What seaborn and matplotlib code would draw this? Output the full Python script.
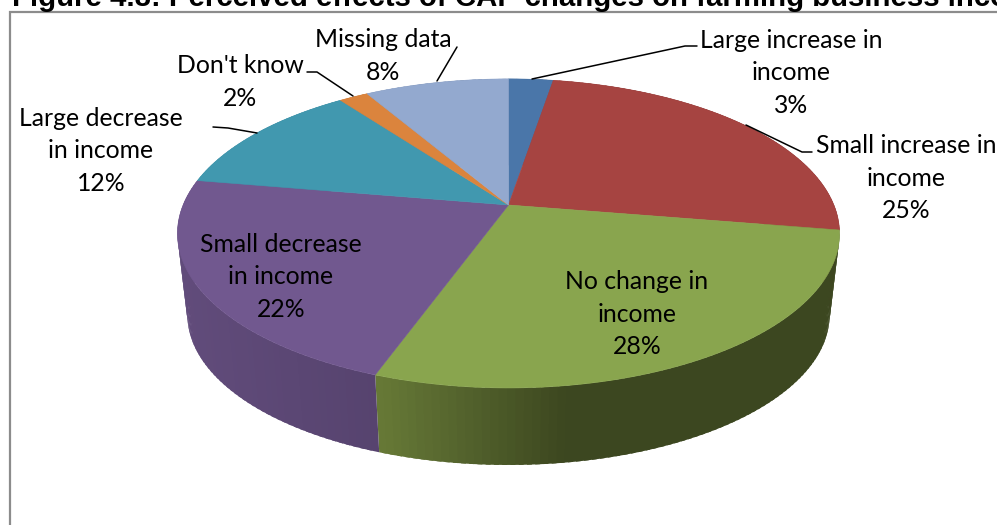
import numpy as np
import matplotlib
matplotlib.use('Agg')
import matplotlib.pyplot as plt
import seaborn as sns

# slices clockwise from 12 o'clock
categories = ['Large increase in\nincome', 'Small increase in\nincome', 'No change in\nincome',
              'Small decrease\nin income', 'Large decrease\nin income', "Don't know", 'Missing data']
values = [2.6, 25.0, 27.9, 22.2, 12.2, 1.7, 8.4]
top_colors = ['#4A76A9', '#A64441', '#89A54E', '#71588F', '#4198AF', '#DB843D', '#93A9CF']
title = 'Figure 4.8: Perceived effects of CAP changes on farming business income'

# label centre in pixels
label_pos = [(791, 73), (906, 178), (637, 314), (281, 277), (101, 151), (240, 82), (383, 56)]

# leader lines in pixels, label end first
leaders = [[(697, 46), (685, 46), (532, 79)],
           [(812, 152), (802, 152), (746, 125)],
           None,
           None,
           [(213, 127), (228, 128), (257, 133)],
           [(307, 72), (317, 72), (353, 96)],
           [(457, 47), (437, 81)]]

sns.set_theme(style='white')
plt.rcParams['font.family'] = ['Lato', 'DejaVu Sans']

# perspective of the tilted pie
cx, cy = 508.5, 205
R, S, k = 325.4, 149.3, 0.184
drop, shrink = 82.5, 0.97


def project(angle, dy=0.0, scale=1.0):
    u, v = np.sin(angle), np.cos(angle)
    w = 1 + k * v
    return cx + scale * R * u / w, cy + dy + scale * S * v * -1 / w


def side_color(name, x):
    # side wall shading, light on the left to dark on the right
    r, g, b = matplotlib.colors.to_rgb(name)
    t = np.clip((x - 177) / 450, 0, 1)
    if name == top_colors[2]:
        t = np.clip((x - 373) / 190, 0, 1)
        f = 0.74 - 0.31 * t
        return (r * f * 1.02, g * f, b * f * 0.95)
    return (r * (0.86 - 0.22 * t), g * (0.86 - 0.22 * t), b * (0.86 - 0.2 * t))


fig = plt.figure(figsize=(9.97, 5.25), dpi=100)
ax = fig.add_axes([0, 0, 1, 1])
ax.set_xlim(0, 997)
ax.set_ylim(525, 0)
ax.axis('off')

ax.plot([10, 10, 997], [525, 12, 12], color='#8C8C8C', lw=1.6, solid_joinstyle='miter', zorder=1)

edges = 2 * np.pi * np.cumsum([0] + values) / sum(values)

# side wall first, top face goes over it. strips overlap the next one so no seams show
for i in range(len(values)):
    a = np.linspace(edges[i], edges[i + 1], max(int(values[i] * 3), 3))
    step = a[1] - a[0]
    for a0, a1 in zip(a[:-1], a[1:]):
        a_end = min(a1 + step * 0.6, edges[i + 1])
        x0, y0 = project(a0)
        x1, y1 = project(a_end)
        x2, y2 = project(a_end, drop, shrink)
        x3, y3 = project(a0, drop, shrink)
        c = side_color(top_colors[i], (x0 + x1) / 2)
        ax.fill([x0, x1, x2, x3], [y0, y1, y2, y3], color=c, lw=0, zorder=2)

for i in range(len(values)):
    a = np.linspace(edges[i], edges[i + 1], 120)
    x, y = project(a)
    ax.fill(np.r_[cx, x], np.r_[cy, y], color=top_colors[i], lw=0.4, zorder=3)

for i in range(len(values)):
    txt = f'{categories[i]}\n{values[i]:.0f}%'
    ax.text(label_pos[i][0], label_pos[i][1], txt, ha='center', va='center', fontsize=17.8,
            color='black', linespacing=1.5, zorder=5)
    if leaders[i] is not None:
        ax.plot(*zip(*leaders[i]), color='black', lw=1.1, zorder=4)

ax.text(12, 6, title, ha='left', va='baseline', fontsize=21.2, fontweight='bold',
        family='Liberation Sans', color='black', zorder=5)

fig.savefig('out.png', dpi=100)
